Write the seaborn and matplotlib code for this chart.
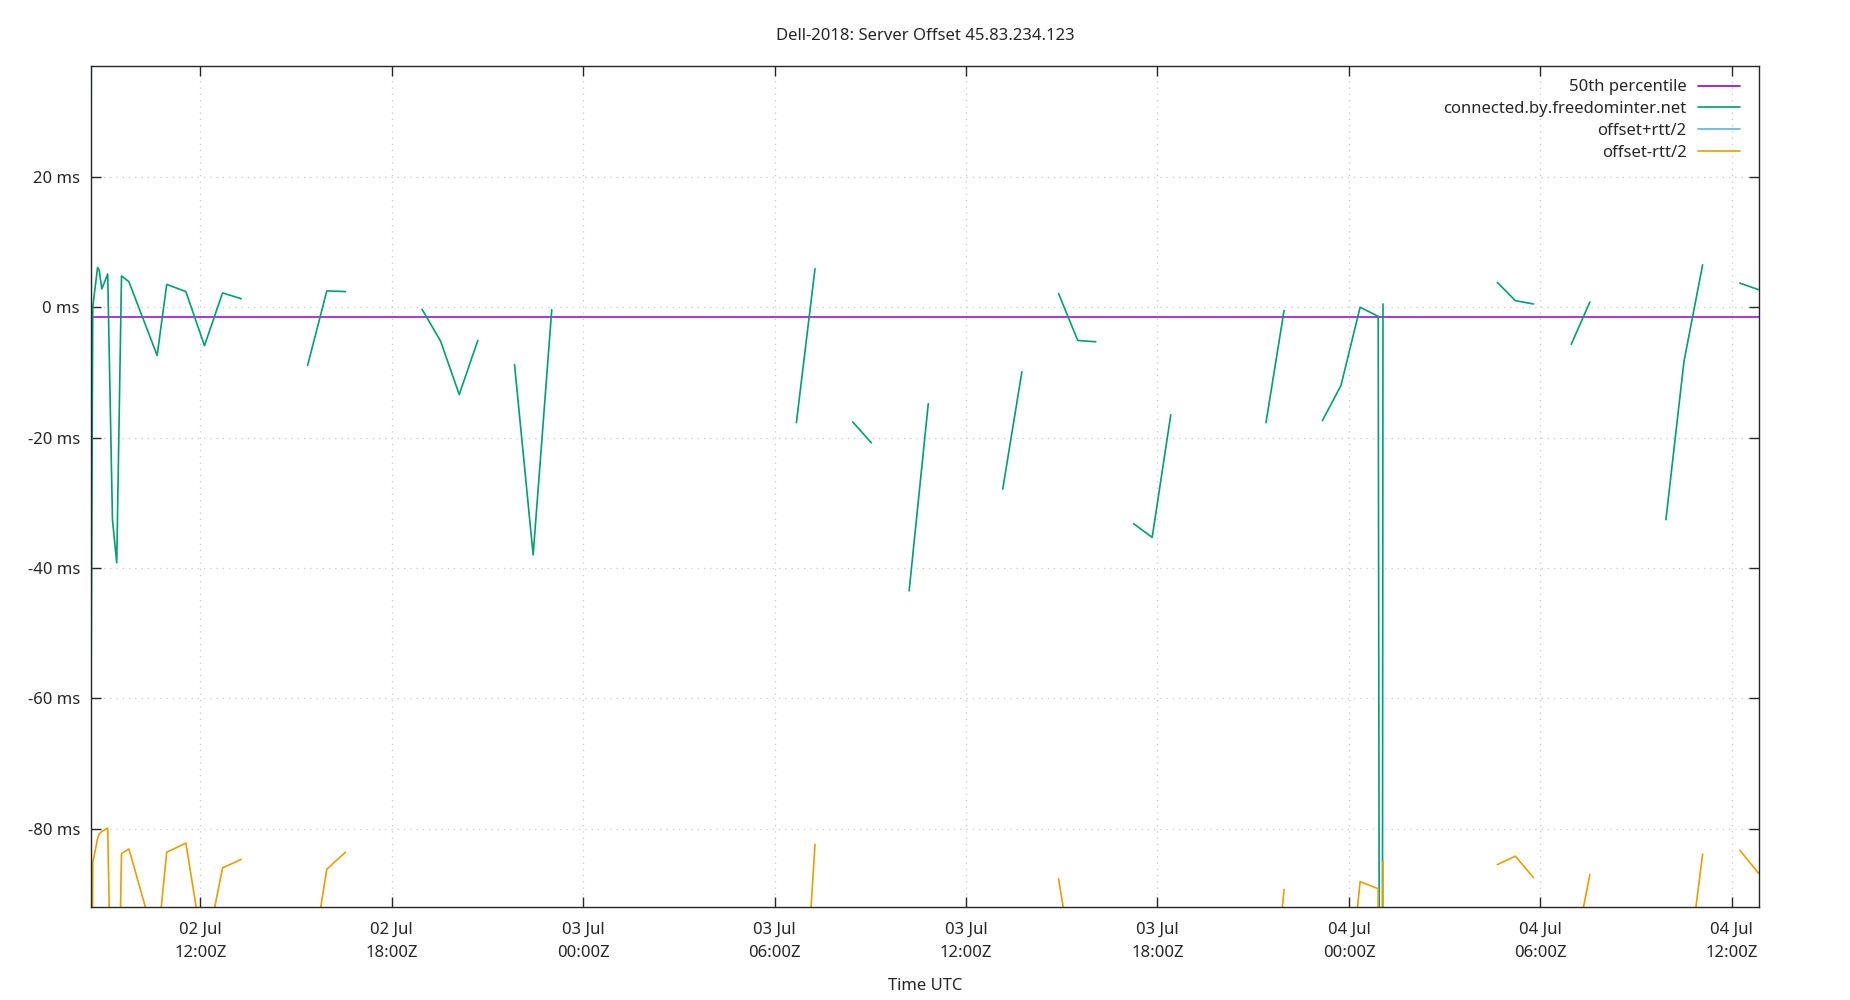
import seaborn as sns
import matplotlib.pyplot as plt
import matplotlib.dates as mdates
from matplotlib.lines import Line2D
import pandas as pd

# sample times (UTC), offsets and half round-trip delay
times = [
    "2024-07-02 08:35", "2024-07-02 08:38", "2024-07-02 08:47", "2024-07-02 08:50",
    "2024-07-02 08:55", "2024-07-02 09:06", "2024-07-02 09:15", "2024-07-02 09:23",
    "2024-07-02 09:32", "2024-07-02 09:46", "2024-07-02 10:39", "2024-07-02 10:57",
    "2024-07-02 11:33", "2024-07-02 12:08", "2024-07-02 12:42", "2024-07-02 13:17",
    "2024-07-02 15:22", "2024-07-02 15:58", "2024-07-02 16:33",
    "2024-07-02 18:57", "2024-07-02 19:32", "2024-07-02 20:07", "2024-07-02 20:42",
    "2024-07-02 21:51", "2024-07-02 22:26", "2024-07-02 23:01",
    "2024-07-03 06:41", "2024-07-03 07:16",
    "2024-07-03 08:27", "2024-07-03 09:02",
    "2024-07-03 10:13", "2024-07-03 10:49",
    "2024-07-03 13:09", "2024-07-03 13:45",
    "2024-07-03 14:54", "2024-07-03 15:30", "2024-07-03 16:04",
    "2024-07-03 17:15", "2024-07-03 17:50", "2024-07-03 18:25",
    "2024-07-03 21:24", "2024-07-03 21:58",
    "2024-07-03 23:10", "2024-07-03 23:45", "2024-07-04 00:21", "2024-07-04 00:55",
    "2024-07-04 01:01", "2024-07-04 01:04",
    "2024-07-04 04:39", "2024-07-04 05:13", "2024-07-04 05:47",
    "2024-07-04 06:58", "2024-07-04 07:33",
    "2024-07-04 09:56", "2024-07-04 10:30", "2024-07-04 11:05",
    "2024-07-04 12:15", "2024-07-04 12:50",
]
offset_ms = [
    -54.0, 0.1, 6.1, 5.7, 2.8, 5.1, -32.6, -39.2,
    4.8, 3.9, -7.4, 3.5, 2.4, -5.9, 2.2, 1.3,
    -8.9, 2.5, 2.4,
    -0.3, -5.2, -13.4, -5.1,
    -8.8, -38.0, -0.4,
    -17.7, 5.9,
    -17.6, -20.8,
    -43.5, -14.8,
    -27.9, -9.9,
    2.1, -5.1, -5.3,
    -33.2, -35.3, -16.5,
    -17.7, -0.5,
    -17.4, -12.0, 0.0, -1.4, -300.0, 0.5,
    3.8, 1.0, 0.5,
    -5.7, 0.8,
    -32.6, -8.3, 6.5,
    3.7, 2.7,
]
half_rtt_ms = [
    85.0, 85.3, 87.6, 86.5, 83.2, 85.0, 85.0, 85.0,
    88.6, 87.0, 91.0, 87.1, 84.6, 94.0, 88.2, 86.0,
    95.7, 88.7, 86.0,
    95.0, 95.0, 95.0, 95.0,
    95.0, 95.0, 95.0,
    110.0, 88.3,
    90.0, 90.0,
    90.0, 90.0,
    90.0, 90.0,
    89.8, 100.4, 90.0,
    90.0, 90.0, 90.0,
    100.0, 88.8,
    95.0, 105.0, 88.1, 87.8, 400.0, 85.5,
    89.3, 85.2, 88.0,
    96.0, 87.8,
    95.0, 98.2, 90.4,
    87.0, 89.5,
]
# runs of consecutive samples (gaps break the line)
segment = ([0] * 16 + [1] * 3 + [2] * 4 + [3] * 3 + [4] * 2 + [5] * 2 + [6] * 2
           + [7] * 2 + [8] * 3 + [9] * 3 + [10] * 2 + [11] * 6 + [12] * 3
           + [13] * 2 + [14] * 3 + [15] * 2)
median_ms = -1.53

df = pd.DataFrame({"time": pd.to_datetime(times), "offset": offset_ms,
                   "half_rtt": half_rtt_ms, "segment": segment})
df["upper"] = df["offset"] + df["half_rtt"]
df["lower"] = df["offset"] - df["half_rtt"]

c_med, c_off, c_up, c_low = "#9400d3", "#009e73", "#56b4e9", "#e69f00"

sns.set_style("ticks")
plt.rcParams["font.family"] = ["Noto Sans", "DejaVu Sans"]
plt.rcParams["font.size"] = 12

fig = plt.figure(figsize=(18.5, 10), dpi=100)
ax = fig.add_axes([0.0492, 0.093, 0.9016, 0.841])

ax.axhline(median_ms, color=c_med, lw=1.1)
sns.lineplot(data=df, x="time", y="offset", units="segment", estimator=None,
             color=c_off, lw=1.2, ax=ax)
sns.lineplot(data=df, x="time", y="upper", units="segment", estimator=None,
             color=c_up, lw=1.2, ax=ax)
sns.lineplot(data=df, x="time", y="lower", units="segment", estimator=None,
             color=c_low, lw=1.2, ax=ax)

ax.set_xlim(pd.Timestamp("2024-07-02 08:34:40"), pd.Timestamp("2024-07-04 12:51"))
ax.set_ylim(-92, 37)
ax.set_yticks([20, 0, -20, -40, -60, -80])
ax.set_yticklabels([f"{v} ms" for v in [20, 0, -20, -40, -60, -80]])
ax.xaxis.set_major_locator(mdates.HourLocator(byhour=[0, 6, 12, 18]))
ax.xaxis.set_major_formatter(mdates.DateFormatter("%d %b\n%H:%MZ"))

ax.tick_params(direction="in", length=7, width=1, top=True, right=True,
               labelsize=12)
ax.tick_params(axis="x", pad=11)
ax.tick_params(axis="y", pad=8)
for s in ax.spines.values():
    s.set_linewidth(1.0)
ax.grid(True, color="#c8c8c8", lw=0.9, ls=(0, (1, 4)))

ax.set_xlabel("Time UTC", fontsize=12, labelpad=12)
ax.set_ylabel("")
ax.set_title("Dell-2018: Server Offset 45.83.234.123", fontsize=12, pad=19)

handles = [Line2D([], [], color=c, lw=1.2) for c in (c_med, c_off, c_up, c_low)]
labels = ["50th percentile", "connected.by.freedominter.net", "offset+rtt/2", "offset-rtt/2"]
ax.legend(handles, labels, loc="upper right", bbox_to_anchor=(0.945, 0.929),
          bbox_transform=fig.transFigure, frameon=False, markerfirst=False,
          handlelength=2.5, handletextpad=0.7, labelspacing=0.35, borderpad=0,
          fontsize=12)

fig.canvas.draw()
plt.setp(ax.get_xticklabels(), linespacing=1.55)

fig.savefig("out.png", dpi=100)
